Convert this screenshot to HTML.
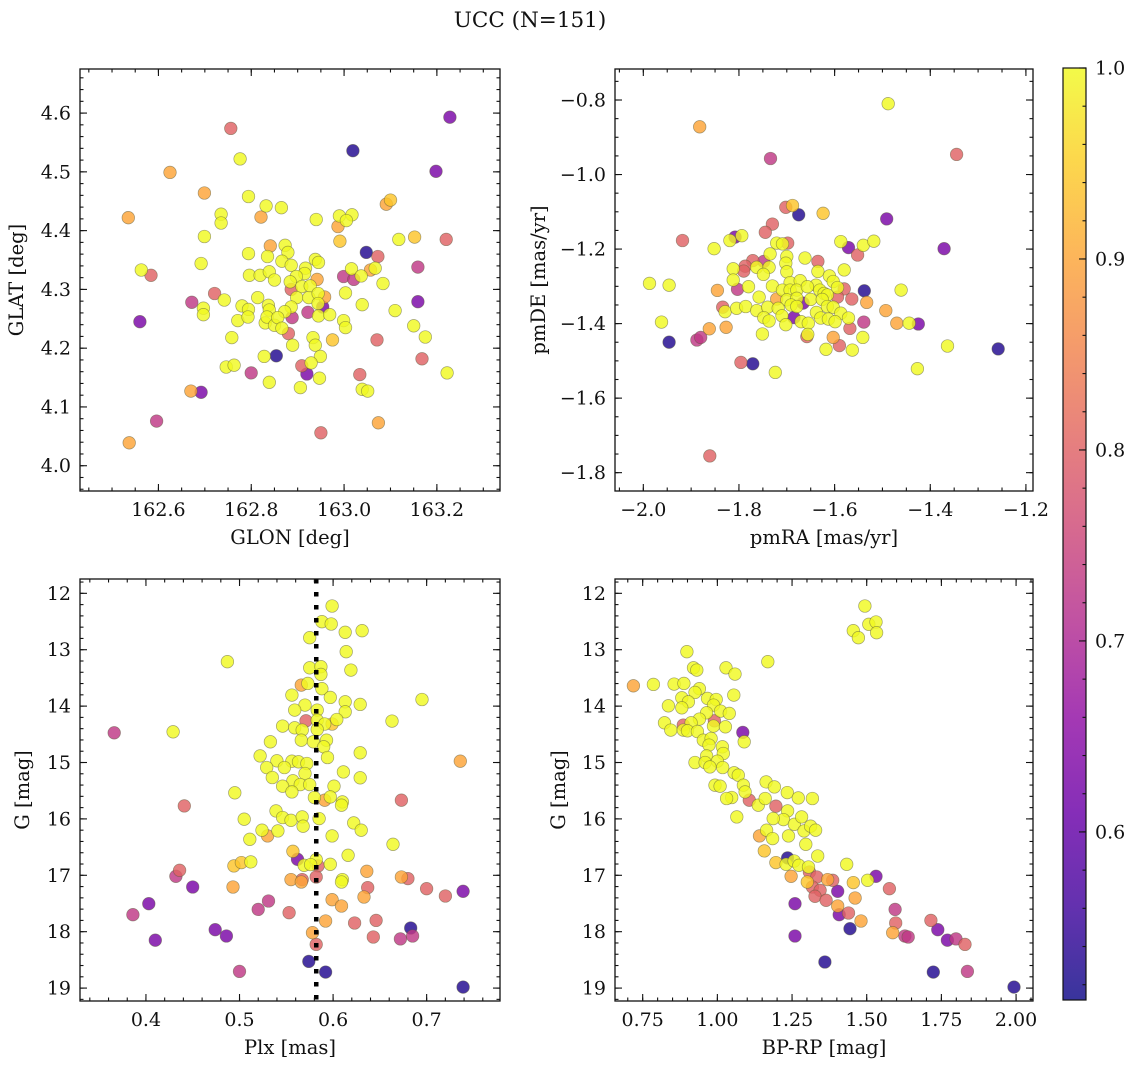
<!DOCTYPE html>
<html><head><meta charset="utf-8"><style>
html,body{margin:0;padding:0;background:#fff;}
svg{display:block;font-family:"DejaVu Serif","Liberation Serif",serif;}
</style></head><body>
<svg id="fig" width="1136" height="1068" viewBox="0 0 1136 1068" xmlns="http://www.w3.org/2000/svg">
<text x="530" y="27" text-anchor="middle" font-size="21.5" fill="#111">UCC (N=151)</text>
<defs>
<linearGradient id="plasma" x1="0" y1="1" x2="0" y2="0">
<stop offset="0" stop-color="#0d0887"/><stop offset="0.1" stop-color="#41049d"/><stop offset="0.2" stop-color="#6a00a8"/><stop offset="0.3" stop-color="#8f0da4"/><stop offset="0.4" stop-color="#b12a90"/><stop offset="0.5" stop-color="#cc4778"/><stop offset="0.6" stop-color="#e16462"/><stop offset="0.7" stop-color="#f2844b"/><stop offset="0.8" stop-color="#fca636"/><stop offset="0.9" stop-color="#fcce25"/><stop offset="1" stop-color="#f0f921"/>
</linearGradient>
</defs>
<g id="layer"></g>
</svg>
<script>
// ---- Panel 1: GLON / GLAT ----
const p1Glon=[163.228,162.756,163.019,162.776,162.625,163.198,162.699,163.1,163.091,162.794,162.535,162.832,162.865,162.735,162.735,162.821,162.94,162.99,163.017,163.005,162.987,162.699,163.118,163.152,163.22,162.991,162.841,162.873,162.794,162.879,162.835,163.048,163.073,162.938,162.945,162.866,162.886,162.692,163.159,162.563,162.584,163.016,163.057,163.067,162.796,162.819,162.839,162.85,162.917,162.915,162.897,162.999,163.021,163.037,162.942,162.884,162.886,162.909,162.927,163.084,162.721,162.672,162.742,162.814,162.898,162.924,162.944,162.958,163.003,163.159,163.039,162.697,162.697,162.78,162.794,162.837,162.839,162.886,162.872,162.954,162.944,162.922,162.945,162.969,163.11,162.56,162.771,162.793,162.83,162.834,162.85,162.857,162.866,162.888,162.999,163.003,162.88,163.15,163.175,162.758,162.933,162.938,162.975,163.071,162.889,162.828,162.854,162.949,163.168,162.746,162.763,162.909,162.929,162.8,162.92,163.034,163.222,162.839,162.947,162.67,162.692,162.906,163.039,163.051,162.596,163.074,162.95,162.537];
const p1Glat=[4.593,4.574,4.536,4.522,4.499,4.501,4.464,4.452,4.445,4.458,4.422,4.442,4.439,4.428,4.413,4.423,4.419,4.425,4.427,4.417,4.407,4.39,4.385,4.389,4.385,4.382,4.374,4.375,4.361,4.363,4.356,4.363,4.356,4.351,4.346,4.348,4.341,4.344,4.338,4.333,4.324,4.335,4.333,4.336,4.324,4.324,4.33,4.316,4.336,4.327,4.322,4.322,4.317,4.323,4.317,4.313,4.3,4.305,4.306,4.31,4.293,4.278,4.282,4.286,4.286,4.286,4.293,4.287,4.294,4.279,4.274,4.268,4.257,4.272,4.266,4.273,4.265,4.27,4.262,4.27,4.276,4.261,4.255,4.257,4.264,4.245,4.247,4.253,4.243,4.253,4.239,4.252,4.234,4.252,4.247,4.235,4.225,4.238,4.219,4.218,4.218,4.205,4.214,4.214,4.205,4.186,4.187,4.186,4.182,4.168,4.171,4.17,4.175,4.158,4.156,4.155,4.158,4.142,4.149,4.127,4.125,4.133,4.13,4.127,4.076,4.073,4.056,4.039];
const p1Prob=[0.63,0.8,0.53,1,0.9,0.63,0.9,0.94,0.9,1,0.9,1,1,1,1,0.9,1,1,1,1,0.9,1,1,0.94,0.8,0.94,0.9,1,1,1,1,0.53,0.8,1,1,1,1,1,0.73,1,0.8,1,0.9,1,1,1,1,1,1,1,1,0.73,0.73,1,0.9,1,0.8,1,1,1,0.8,0.73,1,1,1,1,1,0.9,1,0.63,1,1,1,1,1,1,1,1,1,0.63,1,0.73,1,1,1,0.63,1,1,1,1,1,1,1,0.73,1,1,0.8,1,1,1,1,1,0.94,0.8,1,1,0.53,1,0.8,1,1,0.8,1,0.73,0.63,0.8,1,1,1,0.9,0.63,1,1,1,0.73,0.9,0.8,0.9];
const p1XTicks=[162.6,162.8,163.0,163.2];
const p1YTicks=[4.0,4.1,4.2,4.3,4.4,4.5,4.6];
// ---- Panel 2: pmRA / pmDE ----
const p2PmRA=[-1.488,-1.882,-1.345,-1.734,-1.702,-1.688,-1.675,-1.624,-1.491,-1.73,-1.745,-1.808,-1.794,-1.819,-1.918,-1.852,-1.721,-1.698,-1.709,-1.587,-1.571,-1.54,-1.518,-1.371,-1.552,-1.735,-1.70,-1.662,-1.635,-1.771,-1.748,-1.787,-1.763,-1.812,-1.79,-1.737,-1.702,-1.70,-1.635,-1.58,-1.749,-1.987,-1.946,-1.812,-1.78,-1.803,-1.73,-1.693,-1.672,-1.639,-1.611,-1.603,-1.58,-1.594,-1.538,-1.461,-1.845,-1.709,-1.693,-1.679,-1.657,-1.631,-1.622,-1.615,-1.594,-1.564,-1.533,-1.758,-1.721,-1.70,-1.679,-1.65,-1.626,-1.834,-1.829,-1.805,-1.786,-1.763,-1.74,-1.718,-1.691,-1.679,-1.666,-1.638,-1.615,-1.603,-1.587,-1.493,-1.962,-1.862,-1.827,-1.748,-1.737,-1.71,-1.702,-1.685,-1.67,-1.655,-1.629,-1.613,-1.599,-1.571,-1.539,-1.47,-1.444,-1.425,-1.946,-1.888,-1.88,-1.751,-1.658,-1.656,-1.603,-1.568,-1.541,-1.59,-1.618,-1.563,-1.364,-1.258,-1.796,-1.771,-1.724,-1.427,-1.861];
const p2PmDE=[-0.810,-0.872,-0.946,-0.957,-1.088,-1.083,-1.108,-1.104,-1.119,-1.133,-1.155,-1.168,-1.164,-1.177,-1.177,-1.199,-1.184,-1.184,-1.186,-1.18,-1.196,-1.19,-1.179,-1.199,-1.216,-1.213,-1.22,-1.224,-1.233,-1.231,-1.233,-1.246,-1.249,-1.253,-1.259,-1.249,-1.238,-1.261,-1.26,-1.256,-1.268,-1.292,-1.297,-1.283,-1.301,-1.308,-1.299,-1.29,-1.285,-1.297,-1.272,-1.287,-1.307,-1.303,-1.312,-1.31,-1.311,-1.31,-1.31,-1.31,-1.301,-1.31,-1.319,-1.323,-1.329,-1.334,-1.343,-1.329,-1.334,-1.336,-1.332,-1.335,-1.335,-1.356,-1.368,-1.359,-1.354,-1.365,-1.356,-1.359,-1.35,-1.354,-1.345,-1.37,-1.354,-1.356,-1.372,-1.365,-1.396,-1.414,-1.41,-1.384,-1.393,-1.379,-1.403,-1.384,-1.395,-1.399,-1.385,-1.388,-1.395,-1.385,-1.396,-1.399,-1.399,-1.401,-1.45,-1.444,-1.437,-1.428,-1.435,-1.429,-1.437,-1.413,-1.437,-1.459,-1.469,-1.471,-1.46,-1.468,-1.504,-1.508,-1.531,-1.521,-1.755];
const p2Prob=[1,0.9,0.8,0.73,0.8,0.94,0.53,0.94,0.63,0.8,0.8,0.63,1,1,0.8,1,1,0.8,1,1,0.63,1,1,0.63,0.8,1,1,1,0.8,0.8,0.73,0.8,1,1,0.8,1,1,1,1,1,1,1,1,1,1,0.73,1,1,1,1,1,1,0.8,1,0.53,1,0.9,1,1,1,1,1,1,1,0.8,0.8,0.9,1,0.9,1,1,1,1,0.8,1,1,1,1,1,1,1,1,0.63,1,1,1,1,0.9,1,0.9,0.9,1,1,1,1,0.63,1,1,1,1,1,1,0.73,0.9,1,0.63,0.53,0.73,0.73,1,0.8,1,0.9,0.8,1,0.8,1,1,1,0.53,0.8,0.53,1,1,0.8];
const p2XTicks=[-2.0,-1.8,-1.6,-1.4,-1.2];
const p2YTicks=[-0.8,-1.0,-1.2,-1.4,-1.6,-1.8];
// ---- Panel 3: Plx / G ----
const p3Plx=[0.599,0.588,0.598,0.613,0.631,0.575,0.614,0.487,0.575,0.587,0.587,0.619,0.566,0.573,0.588,0.556,0.597,0.695,0.613,0.629,0.57,0.559,0.583,0.613,0.604,0.571,0.583,0.599,0.591,0.663,0.366,0.429,0.546,0.559,0.567,0.583,0.566,0.579,0.593,0.59,0.533,0.522,0.594,0.629,0.54,0.556,0.563,0.572,0.529,0.548,0.57,0.736,0.611,0.535,0.557,0.565,0.575,0.629,0.546,0.556,0.601,0.495,0.58,0.591,0.597,0.61,0.609,0.673,0.441,0.539,0.546,0.555,0.567,0.585,0.505,0.568,0.622,0.63,0.524,0.53,0.541,0.511,0.599,0.664,0.557,0.562,0.582,0.616,0.569,0.576,0.584,0.597,0.494,0.502,0.512,0.436,0.432,0.636,0.582,0.555,0.566,0.567,0.61,0.609,0.673,0.68,0.45,0.493,0.637,0.70,0.72,0.739,0.633,0.599,0.531,0.609,0.403,0.52,0.386,0.553,0.592,0.623,0.646,0.474,0.486,0.578,0.683,0.685,0.643,0.672,0.41,0.582,0.574,0.50,0.592,0.739];
const p3G=[12.225,12.503,12.544,12.692,12.663,12.787,13.036,13.213,13.32,13.302,13.438,13.361,13.627,13.598,13.692,13.805,13.846,13.882,13.923,13.97,13.982,14.071,14.071,14.101,14.237,14.26,14.249,14.318,14.318,14.266,14.473,14.455,14.355,14.385,14.426,14.414,14.604,14.633,14.604,14.722,14.633,14.882,14.911,14.828,14.97,14.976,14.988,15.018,15.089,15.089,15.195,14.976,15.166,15.266,15.325,15.391,15.391,15.272,15.42,15.521,15.42,15.538,15.621,15.669,15.609,15.698,15.757,15.669,15.769,15.858,15.976,16.024,15.964,15.994,16.006,16.13,16.071,16.201,16.201,16.302,16.213,16.361,16.302,16.45,16.574,16.716,16.722,16.645,16.822,16.811,16.834,16.805,16.834,16.775,16.763,16.911,17.018,16.929,17.03,17.077,17.118,17.077,17.077,17.118,17.03,17.059,17.207,17.207,17.219,17.237,17.367,17.284,17.385,17.432,17.455,17.544,17.503,17.604,17.698,17.663,17.811,17.846,17.799,17.964,18.077,18.018,17.935,18.077,18.095,18.128,18.151,18.225,18.527,18.705,18.716,18.982];
const p3Prob=[1,1,1,1,1,1,1,1,1,1,1,1,0.9,1,1,1,1,1,1,1,1,1,1,1,1,0.8,1,0.94,1,1,0.73,1,1,1,1,1,1,1,1,1,1,1,1,1,1,1,1,1,1,1,1,0.9,1,1,1,1,1,1,1,1,1,1,1,0.9,1,1,1,0.8,0.8,1,1,1,1,1,1,1,1,1,1,0.9,1,1,1,1,0.94,0.63,1,1,1,1,0.8,1,0.94,0.94,1,0.8,0.73,0.9,0.8,0.9,0.9,0.8,1,1,0.9,0.8,0.63,0.9,0.8,0.8,0.8,0.63,0.9,0.9,0.73,0.9,0.63,0.73,0.73,0.8,0.9,0.8,0.8,0.63,0.63,0.9,0.53,0.73,0.8,0.73,0.63,0.8,0.53,0.73,0.53,0.53];
const p3XTicks=[0.4,0.5,0.6,0.7];
const p3YTicks=[12,13,14,15,16,17,18,19];
const plxMedian=0.582;
// ---- Panel 4: BP-RP / G ----
const p4BpRp=[1.494,1.507,1.531,1.533,1.455,1.472,0.898,1.169,0.92,0.931,1.029,1.059,0.719,0.786,0.855,0.888,0.94,0.925,1.055,0.881,0.903,0.967,0.996,0.987,0.836,0.881,0.964,1.011,1.04,0.94,0.823,0.886,0.912,0.99,0.987,1.027,0.844,0.886,0.9,0.933,1.085,1.09,0.953,0.979,0.972,1.017,1.02,0.964,0.925,0.959,1.0,0.975,1.018,1.056,1.07,1.087,1.093,1.163,1.191,1.234,1.271,1.318,0.992,1.009,1.048,1.031,1.107,1.137,1.16,1.196,1.235,1.221,1.187,1.258,1.282,1.29,1.312,1.329,1.065,1.165,1.141,1.185,1.238,1.296,1.157,1.336,1.235,1.196,1.23,1.257,1.273,1.305,1.433,1.247,1.308,1.333,1.369,1.386,1.301,1.318,1.344,1.503,1.531,1.455,1.576,1.403,1.327,1.364,1.461,1.26,1.403,1.439,1.408,1.595,1.481,1.597,1.715,1.444,1.738,1.587,1.628,1.639,1.26,1.77,1.799,1.829,1.36,1.723,1.837,1.993];
const p4G=[12.225,12.55,12.509,12.698,12.663,12.787,13.036,13.213,13.32,13.361,13.32,13.432,13.639,13.615,13.609,13.598,13.692,13.757,13.805,13.852,13.923,13.864,13.882,13.982,13.994,14.03,14.118,14.089,14.13,14.231,14.296,14.337,14.296,14.26,14.355,14.367,14.426,14.426,14.438,14.45,14.467,14.633,14.604,14.574,14.692,14.722,14.84,14.882,15.0,15.0,14.976,15.077,15.089,15.183,15.225,15.402,15.521,15.343,15.432,15.533,15.627,15.639,15.402,15.42,15.621,15.639,15.669,15.757,15.639,15.775,15.858,16.012,15.994,16.095,15.964,16.213,16.13,16.201,15.964,16.201,16.302,16.349,16.302,16.45,16.568,16.657,16.692,16.775,16.805,16.746,16.822,16.852,16.805,17.018,16.941,17.03,17.077,17.089,17.118,17.207,17.266,17.089,17.018,17.13,17.237,17.284,17.373,17.444,17.402,17.503,17.544,17.669,17.698,17.604,17.811,17.846,17.799,17.947,17.964,18.018,18.077,18.095,18.077,18.151,18.128,18.225,18.538,18.716,18.705,18.982];
const p4Prob=[1,1,1,1,1,1,1,1,1,1,1,1,0.9,1,1,1,1,1,1,1,1,1,1,1,1,1,1,1,1,1,1,0.8,1,0.8,1,1,1,1,1,1,0.63,1,1,1,1,1,1,1,1,1,1,1,1,1,1,1,1,1,1,1,1,1,1,1,1,1,0.8,1,1,0.8,1,1,1,1,1,1,1,1,1,1,0.9,1,1,1,0.94,1,0.53,0.94,1,1,1,1,1,0.9,0.8,0.8,0.9,0.8,0.94,0.8,0.8,1,0.63,0.94,0.8,0.63,0.8,0.8,0.9,0.63,0.9,0.8,0.63,0.73,0.9,0.8,0.8,0.53,0.63,0.9,0.73,0.73,0.63,0.63,0.73,0.8,0.53,0.53,0.73,0.53];
const p4XTicks=[0.75,1.00,1.25,1.50,1.75,2.00];
const p4YTicks=[12,13,14,15,16,17,18,19];
// ---- Colorbar ----
const cbTicks=[0.6,0.7,0.8,0.9,1.0];
const cbMin=0.512, cbMax=1.0;

const NS="http://www.w3.org/2000/svg";
const layer=document.getElementById('layer');
function mk(tag,attrs,parent){const e=document.createElementNS(NS,tag);for(const k in attrs)e.setAttribute(k,attrs[k]);(parent||layer).appendChild(e);return e;}
function lin(d0,d1,r0,r1){return v=>r0+(v-d0)/(d1-d0)*(r1-r0);}
const PL=[[13,8,135],[65,4,157],[106,0,168],[143,13,164],[177,42,144],[204,71,120],[225,100,98],[242,132,75],[252,166,54],[252,206,37],[240,249,33]];
function plasma(t){t=Math.max(0,Math.min(1,t));const f=t*10,i=Math.min(9,Math.floor(f)),u=f-i;const a=PL[i],b=PL[i+1];return 'rgb('+a.map((c,k)=>Math.round(c+(b[k]-c)*u)).join(',')+')';}
function fmtMinus(s){return s.replace('-','\u2212');}
const TF=19, LF=19.5;

function panel(o){
  const g=mk('g',{});
  
  
  const sx=lin(o.xd[0],o.xd[1],o.L,o.R), sy=lin(o.yd[0],o.yd[1],o.B,o.T);
  const idx=o.xs.map((_,i)=>i).sort((a,b)=>o.pr[a]-o.pr[b]);
  const pg=mk('g',{},g);
  
  
  idx.forEach(i=>{
    const c=mk('circle',{cx:sx(o.xs[i]).toFixed(1),cy:sy(o.ys[i]).toFixed(1),r:6.3,fill:plasma((o.pr[i]-cbMin)/(cbMax-cbMin)),'fill-opacity':0.82,stroke:'#5a5a3a','stroke-opacity':0.55,'stroke-width':0.7},pg);
    
    
  });
  if(o.vline!==undefined){
    const vl=mk('line',{x1:sx(o.vline),x2:sx(o.vline),y1:o.T,y2:o.B,stroke:'#000','stroke-width':4.5,'stroke-dasharray':'4.5 8.5'},g);
    
    
  }
  const fr=mk('rect',{x:o.L,y:o.T,width:o.R-o.L,height:o.B-o.T,fill:'none',stroke:'#111','stroke-width':1.3},g);
  
  
  const tg=mk('g',{stroke:'#111','stroke-width':1.1},g);
  const xmin=Math.min(o.xd[0],o.xd[1]),xmax=Math.max(o.xd[0],o.xd[1]);
  for(let k=Math.ceil(xmin/o.xm-1e-6);k*o.xm<=xmax+1e-9;k++){const x=sx(k*o.xm);mk('line',{x1:x,x2:x,y1:o.B,y2:o.B-3.5},tg);mk('line',{x1:x,x2:x,y1:o.T,y2:o.T+3.5},tg);}
  const ymin=Math.min(o.yd[0],o.yd[1]),ymax=Math.max(o.yd[0],o.yd[1]);
  for(let k=Math.ceil(ymin/o.ym-1e-6);k*o.ym<=ymax+1e-9;k++){const y=sy(k*o.ym);mk('line',{x1:o.L,x2:o.L+3.5,y1:y,y2:y},tg);mk('line',{x1:o.R,x2:o.R-3.5,y1:y,y2:y},tg);}
  o.xt.forEach(v=>{const x=sx(v);mk('line',{x1:x,x2:x,y1:o.B,y2:o.B-7},tg);mk('line',{x1:x,x2:x,y1:o.T,y2:o.T+7},tg);
    const t=mk('text',{x:x,y:o.B+25,'text-anchor':'middle','font-size':TF,fill:'#111'},g);t.textContent=fmtMinus(v.toFixed(o.xdec));
    
    });
  o.yt.forEach(v=>{const y=sy(v);mk('line',{x1:o.L,x2:o.L+7,y1:y,y2:y},tg);mk('line',{x1:o.R,x2:o.R-7,y1:y,y2:y},tg);
    const t=mk('text',{x:o.L-9,y:y+6.5,'text-anchor':'end','font-size':TF,fill:'#111'},g);t.textContent=fmtMinus(v.toFixed(o.ydec));
    
    });
  const xl=mk('text',{x:(o.L+o.R)/2,y:o.B+53,'text-anchor':'middle','font-size':LF,fill:'#111'},g);xl.textContent=o.xlab;
  
  
  const yl=mk('text',{x:0,y:0,'text-anchor':'middle','font-size':LF,fill:'#111',transform:'translate('+o.ylx+','+((o.T+o.B)/2)+') rotate(-90)'},g);yl.textContent=o.ylab;
  
  
}

panel({name:'panel-glon-glat',L:80,R:500,T:69,B:491,xd:[162.431,163.336],yd:[3.957,4.675],xs:p1Glon,ys:p1Glat,pr:p1Prob,xt:p1XTicks,yt:p1YTicks,xm:0.05,ym:0.02,xdec:1,ydec:1,xlab:'GLON [deg]',ylab:'GLAT [deg]',ylx:23});
panel({name:'panel-pmra-pmde',L:615,R:1033,T:69,B:491,xd:[-2.0592,-1.1852],yd:[-1.8492,-0.7168],xs:p2PmRA,ys:p2PmDE,pr:p2Prob,xt:p2XTicks,yt:p2YTicks,xm:0.05,ym:0.05,xdec:1,ydec:1,xlab:'pmRA [mas/yr]',ylab:'pmDE [mas/yr]',ylx:545});
panel({name:'panel-plx-g',L:80,R:500,T:579,B:1001,xd:[0.3295,0.7784],yd:[19.229,11.746],xs:p3Plx,ys:p3G,pr:p3Prob,xt:p3XTicks,yt:p3YTicks,xm:0.02,ym:0.2,xdec:1,ydec:0,xlab:'Plx [mas]',ylab:'G [mag]',ylx:29,vline:plxMedian});
panel({name:'panel-bprp-g',L:615,R:1033,T:579,B:1001,xd:[0.6573,2.0567],yd:[19.229,11.746],xs:p4BpRp,ys:p4G,pr:p4Prob,xt:p4XTicks,yt:p4YTicks,xm:0.05,ym:0.2,xdec:2,ydec:0,xlab:'BP-RP [mag]',ylab:'G [mag]',ylx:565});

(function(){
  const L=1063,R=1086,T=68,B=1000;
  const g=mk('g',{});
  
  
  mk('rect',{x:L,y:T,width:R-L,height:B-T,fill:'url(#plasma)','fill-opacity':0.82},g);
  mk('rect',{x:L,y:T,width:R-L,height:B-T,fill:'none',stroke:'#111','stroke-width':1.2},g);
  const sy=lin(cbMin,cbMax,B,T);
  for(let k=26;k<=50;k++){const y=sy(k*0.02);mk('line',{x1:R,x2:R-3.5,y1:y,y2:y,stroke:'#111','stroke-width':1.1},g);}
  cbTicks.forEach(v=>{const y=sy(v);mk('line',{x1:R,x2:R-7,y1:y,y2:y,stroke:'#111','stroke-width':1.1},g);
    const t=mk('text',{x:R+9,y:y+6.5,'font-size':TF,fill:'#111'},g);t.textContent=v.toFixed(1);
    
    });
})();
</script>
</body></html>
